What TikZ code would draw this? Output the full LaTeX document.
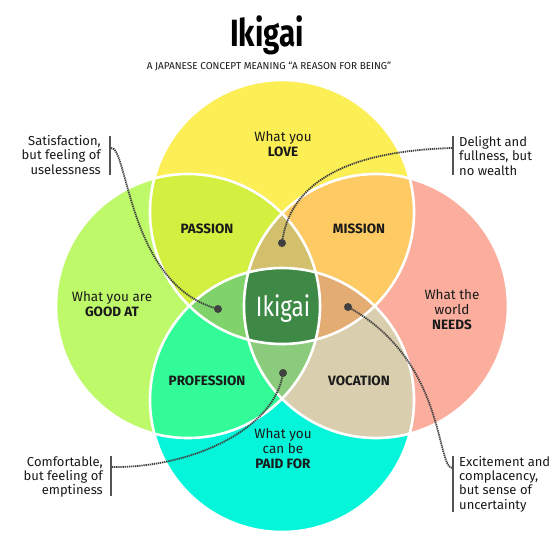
\documentclass[tikz,border=0pt]{standalone}
\usepackage{fontspec}
\setmainfont{Fira Sans}
\definecolor{cT}{HTML}{FCEE55}
\definecolor{cL}{HTML}{BEF96A}
\definecolor{cR}{HTML}{FCAE9E}
\definecolor{cB}{HTML}{05F5DA}
\definecolor{cTL}{HTML}{D3F040}
\definecolor{cTR}{HTML}{FDCA63}
\definecolor{cLB}{HTML}{33FB98}
\definecolor{cRB}{HTML}{D9CEAD}
\definecolor{cTLR}{HTML}{D3C06D}
\definecolor{cTLB}{HTML}{7FD36A}
\definecolor{cTRB}{HTML}{E3AC73}
\definecolor{cLRB}{HTML}{8ACB7C}
\definecolor{cQ}{HTML}{3F8946}
\definecolor{ink}{HTML}{1A1A1A}
\definecolor{lead}{HTML}{404040}
\begin{document}
\begin{tikzpicture}[x=1pt,y=-1pt,
  lbl/.style={font=\fontsize{13.5}{15}\selectfont, align=center, text=ink, inner sep=0pt},
  bold/.style={font=\fontsize{13.5}{15}\selectfont\bfseries, text=ink, inner sep=0pt},
  note/.style={font=\fontsize{13}{14.3}\selectfont, text=ink, inner sep=0pt},
  bar/.style={draw=lead!90, line width=2.4pt},
  leader/.style={draw=lead, line width=1.8pt, dash pattern=on 1.3pt off 0.8pt},
  dot/.style={circle, fill=lead, inner sep=0pt, minimum size=8pt},
  rim/.style={draw=white, line width=2.6pt}]
\useasboundingbox (0,0) rectangle (556,550);
\fill[white] (0,0) rectangle (556,550);
\def\rr{132pt}
\coordinate (T) at (282,212);
\coordinate (L) at (188,306);
\coordinate (R) at (376,306);
\coordinate (B) at (282,400);
% single circles
\fill[cT] (T) circle[radius=\rr];
\fill[cL] (L) circle[radius=\rr];
\fill[cR] (R) circle[radius=\rr];
\fill[cB] (B) circle[radius=\rr];
% pairs
\begin{scope}
  \clip (T) circle[radius=\rr];
  \fill[cTL] (L) circle[radius=\rr];
  \fill[cTR] (R) circle[radius=\rr];
\end{scope}
\begin{scope}
  \clip (B) circle[radius=\rr];
  \fill[cLB] (L) circle[radius=\rr];
  \fill[cRB] (R) circle[radius=\rr];
\end{scope}
% triples
\begin{scope}
  \clip (T) circle[radius=\rr];
  \clip (L) circle[radius=\rr];
  \fill[cTLR] (R) circle[radius=\rr];
  \fill[cTLB] (B) circle[radius=\rr];
\end{scope}
\begin{scope}
  \clip (B) circle[radius=\rr];
  \clip (R) circle[radius=\rr];
  \fill[cTRB] (T) circle[radius=\rr];
  \fill[cLRB] (L) circle[radius=\rr];
\end{scope}
% all four
\begin{scope}
  \clip (T) circle[radius=\rr];
  \clip (L) circle[radius=\rr];
  \clip (R) circle[radius=\rr];
  \fill[cQ] (B) circle[radius=\rr];
\end{scope}
% white rims
\draw[rim] (T) circle[radius=\rr];
\draw[rim] (L) circle[radius=\rr];
\draw[rim] (R) circle[radius=\rr];
\draw[rim] (B) circle[radius=\rr];

% title
\node[anchor=base, inner sep=0pt, text=black] (title) at (267,46.5)
  {\scalebox{0.78}[1]{\fontsize{38}{38}\selectfont\bfseries Ikigai}};
\node[anchor=base, inner sep=0pt, text=ink] (subtitle) at (269,69.5)
  {\fontsize{10}{10}\selectfont A JAPANESE CONCEPT MEANING “A REASON FOR BEING”};

% circle labels
\node[lbl] (love) at (283,144.5) {What you\\\textbf{LOVE}};
\node[lbl] (good) at (112,304) {What you are\\\textbf{GOOD AT}};
\node[lbl] (needs) at (452,310) {What the\\world\\\textbf{NEEDS}};
\node[lbl] (paid) at (283,448.5) {What you\\can be\\\textbf{PAID FOR}};
% pair labels
\node[bold] (passion) at (207,229) {PASSION};
\node[bold] (mission) at (359,229) {MISSION};
\node[bold] (profession) at (207,381) {PROFESSION};
\node[bold] (vocation) at (359,381) {VOCATION};
% centre
\node[anchor=base, inner sep=0pt, text=white] (ikigai) at (283,316)
  {\scalebox{0.8}[1]{\fontsize{28}{28}\selectfont Ikigai}};

% notes
\node[note, anchor=east, align=right] (n1) at (101,155) {Satisfaction,\\but feeling of\\uselessness};
\node[note, anchor=west, align=left] (n2) at (459,156) {Delight and\\fullness, but\\no wealth};
\node[note, anchor=east, align=right] (n3) at (103,477) {Comfortable,\\but feeling of\\emptiness};
\node[note, anchor=west, align=left] (n4) at (459,484) {Excitement and\\complacency,\\but sense of\\uncertainty};

% bars
\coordinate (b1t) at (110,136); \coordinate (b1b) at (110,175);
\coordinate (b2t) at (453,136); \coordinate (b2b) at (453,175);
\coordinate (b3t) at (111,456); \coordinate (b3b) at (111,496);
\coordinate (b4t) at (453,456); \coordinate (b4b) at (453,512);
\draw[bar] (b1t) -- (b1b);
\draw[bar] (b2t) -- (b2b);
\draw[bar] (b3t) -- (b3b);
\draw[bar] (b4t) -- (b4b);

% leader start points and dots
\coordinate (s1) at (111,148);
\coordinate (s2) at (452,148);
\coordinate (s3) at (112,467);
\coordinate (s4) at (452,468);
\node[dot] (d1) at (218,309) {};
\node[dot] (d2) at (282,243) {};
\node[dot] (d3) at (283,373) {};
\node[dot] (d4) at (348,307) {};

\draw[leader] (s1) .. controls (128,146) and (128,285) .. (d1.center);
\draw[leader] (s2) .. controls (390,150) and (292,162) .. (d2.center);
\draw[leader] (s3) .. controls (190,468) and (275,430) .. (d3.center);
\draw[leader] (s4) .. controls (436,465) and (445,360) .. (d4.center);
\end{tikzpicture}
\end{document}
